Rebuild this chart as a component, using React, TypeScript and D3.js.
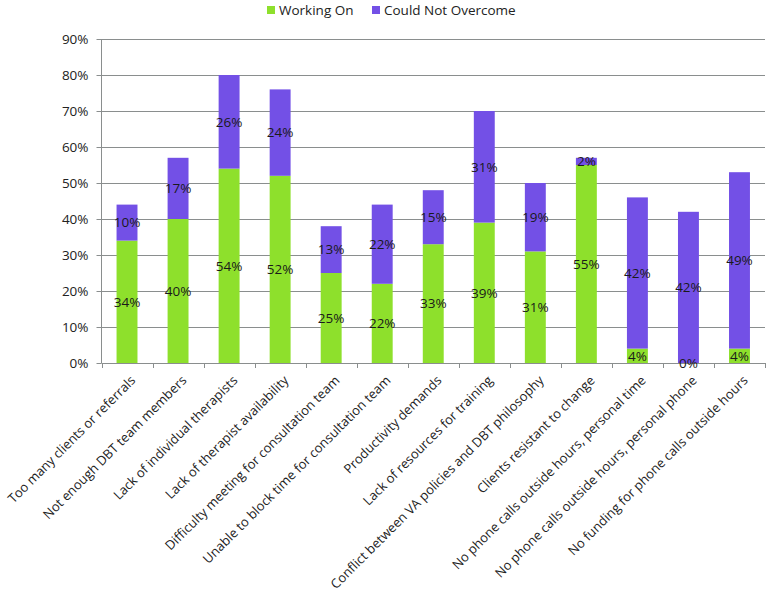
import React, { useEffect, useRef } from 'react';
import * as d3 from 'd3';

const categories = [
  'Too many clients or referrals',
  'Not enough DBT team members',
  'Lack of individual therapists',
  'Lack of therapist availability',
  'Difficulty meeting for consultation team',
  'Unable to block time for consultation team',
  'Productivity demands',
  'Lack of resources for training',
  'Conflict between VA policies and DBT philosophy',
  'Clients resistant to change',
  'No phone calls outside hours, personal time',
  'No phone calls outside hours, personal phone',
  'No funding for phone calls outside hours',
];
const workingOn = [34, 40, 54, 52, 25, 22, 33, 39, 31, 55, 4, 0, 4];
const couldNotOvercome = [10, 17, 26, 24, 13, 22, 15, 31, 19, 2, 42, 42, 49];
const yTicks = [0, 10, 20, 30, 40, 50, 60, 70, 80, 90];
const seriesNames = ['Working On', 'Could Not Overcome'];
const colors = ['#8ee02c', '#7350e6'];

const width = 767;
const height = 594;
const font = "'Open Sans', sans-serif";

const App = () => {
  const svgRef = useRef<SVGSVGElement>(null);

  useEffect(() => {
    const svg = d3.select(svgRef.current);
    svg.selectAll('*').remove();

    const left = 101.5, right = 765, top = 39, bottom = 363;

    const x = d3.scaleBand<string>()
      .domain(categories)
      .range([left, right])
      .paddingInner(0.59)
      .paddingOuter(0.295);
    const step = x.step();

    const y = d3.scaleLinear().domain([0, 90]).range([bottom, top]);

    // gridlines
    svg.append('g')
      .selectAll('line')
      .data(yTicks.slice(1))
      .enter()
      .append('line')
      .attr('x1', left)
      .attr('x2', right)
      .attr('y1', d => Math.round(y(d)) + 0.5)
      .attr('y2', d => Math.round(y(d)) + 0.5)
      .attr('stroke', '#8a8e8e')
      .attr('stroke-width', 1);

    // y axis
    const yAxis = svg.append('g');
    yAxis.append('line')
      .attr('x1', left).attr('x2', left)
      .attr('y1', top).attr('y2', bottom)
      .attr('stroke', '#8a8e8e');
    yAxis.selectAll('.tick')
      .data(yTicks)
      .enter()
      .append('line')
      .attr('x1', left - 5).attr('x2', left)
      .attr('y1', d => Math.round(y(d)) + 0.5)
      .attr('y2', d => Math.round(y(d)) + 0.5)
      .attr('stroke', '#8a8e8e');
    yAxis.selectAll('text')
      .data(yTicks)
      .enter()
      .append('text')
      .attr('x', left - 13)
      .attr('y', d => y(d))
      .attr('dy', '0.35em')
      .attr('text-anchor', 'end')
      .style('font-family', font)
      .style('font-size', '13.5px')
      .style('fill', '#222')
      .text(d => `${d}%`);

    // x axis
    const xAxis = svg.append('g');
    xAxis.append('line')
      .attr('x1', left).attr('x2', right)
      .attr('y1', bottom + 0.5).attr('y2', bottom + 0.5)
      .attr('stroke', '#8a8e8e');
    xAxis.selectAll('.tick')
      .data(d3.range(categories.length + 1))
      .enter()
      .append('line')
      .attr('x1', i => Math.round(left + i * step) + 0.5)
      .attr('x2', i => Math.round(left + i * step) + 0.5)
      .attr('y1', bottom).attr('y2', bottom + 5)
      .attr('stroke', '#8a8e8e');
    xAxis.selectAll('text')
      .data(categories)
      .enter()
      .append('text')
      .attr('transform', d => `translate(${x(d)! + x.bandwidth() / 2 + 6},${bottom + 15}) rotate(-45)`)
      .attr('text-anchor', 'end')
      .attr('dy', '0.35em')
      .style('font-family', font)
      .style('font-size', '13px')
      .style('fill', '#222')
      .text(d => d);

    // stacked bars
    const rows = categories.map((c, i) => ({ cat: c, w: workingOn[i], c2: couldNotOvercome[i] }));
    const stacked = d3.stack<any>().keys(['w', 'c2'])(rows);

    stacked.forEach((layer, li) => {
      const g = svg.append('g');
      g.selectAll('rect')
        .data(layer)
        .enter()
        .append('rect')
        .attr('x', d => x(d.data.cat)!)
        .attr('width', x.bandwidth())
        .attr('y', d => y(d[1]))
        .attr('height', d => y(d[0]) - y(d[1]))
        .attr('fill', colors[li]);
    });

    stacked.forEach(layer => {
      svg.append('g')
        .selectAll('text')
        .data(layer)
        .enter()
        .append('text')
        .attr('x', d => x(d.data.cat)! + x.bandwidth() / 2)
        .attr('y', d => y((d[0] + d[1]) / 2))
        .attr('dy', '0.35em')
        .attr('text-anchor', 'middle')
        .style('font-family', font)
        .style('font-size', '13.5px')
        .style('fill', '#1a1a1a')
        .text(d => `${d[1] - d[0]}%`);
    });

    // legend
    const legendX = [267, 372];
    seriesNames.forEach((name, i) => {
      svg.append('rect')
        .attr('x', legendX[i])
        .attr('y', 6)
        .attr('width', 8)
        .attr('height', 8)
        .attr('fill', colors[i]);
      svg.append('text')
        .attr('x', legendX[i] + 12)
        .attr('y', 10)
        .attr('dy', '0.35em')
        .style('font-family', font)
        .style('font-size', '13.5px')
        .style('fill', '#222')
        .text(name);
    });
  }, []);

  return (
    <div style={{ position: 'absolute', left: 0, top: 0 }}>
      <svg ref={svgRef} width={width} height={height} style={{ display: 'block', background: '#fff' }}></svg>
    </div>
  );
};

export default App;
